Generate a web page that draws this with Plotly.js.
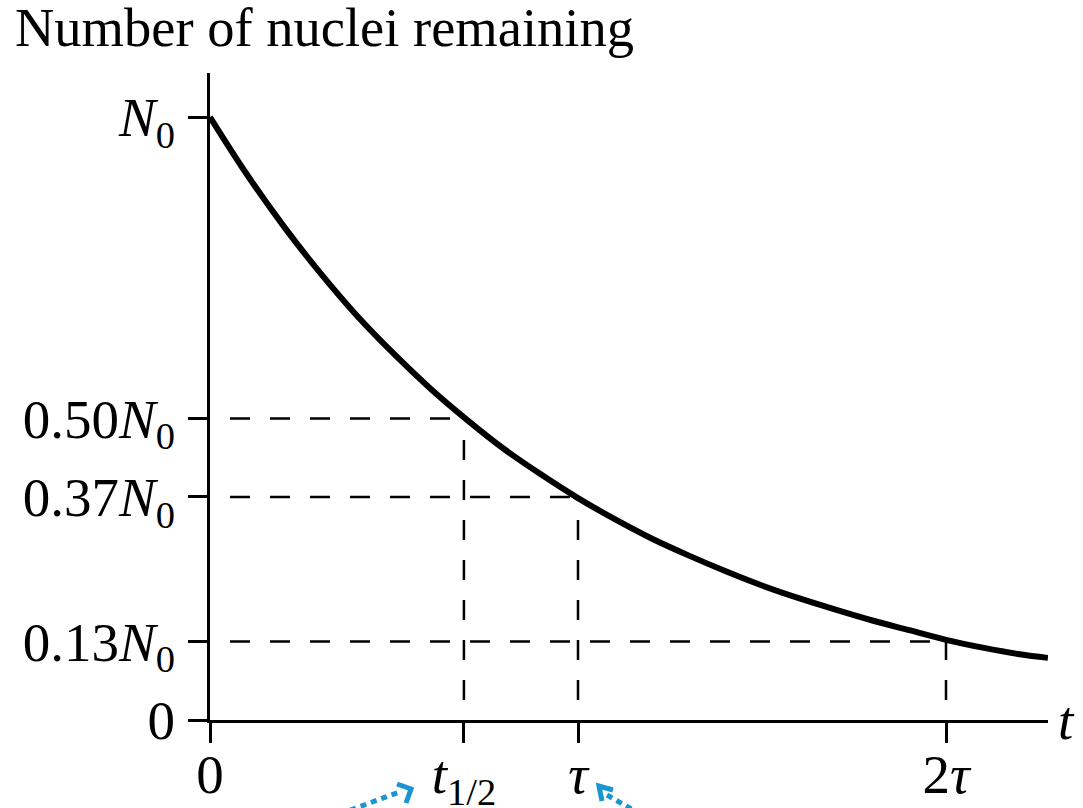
<!DOCTYPE html>
<html>
<head>
<meta charset="utf-8">
<script src="https://cdn.plot.ly/plotly-3.0.1.min.js"></script>
<style>
  html, body { margin: 0; padding: 0; background: #fff; }
  #chart { width: 1083px; height: 808px; }
</style>
</head>
<body>
<div id="chart"></div>
<script>
// Radioactive decay: nuclei remaining versus time (t in units of tau, N in units of N0)
const decayT = [0, 0.1, 0.2, 0.3, 0.4, 0.5, 0.6, 0.7, 0.8, 0.9, 1.0, 1.1, 1.2, 1.3, 1.4, 1.5, 1.6, 1.7, 1.8, 1.9, 2.0, 2.1, 2.2, 2.277];
const decayN = [1.000, 0.905, 0.819, 0.741, 0.670, 0.607, 0.549, 0.497, 0.449, 0.407, 0.368, 0.333, 0.301, 0.273, 0.247, 0.223, 0.202, 0.183, 0.165, 0.149, 0.133, 0.120, 0.109, 0.103];

// Marked times and levels
const tHalf = 0.69;
const tau = 1.0;
const twoTau = 2.0;
const levelHalf = 0.50;
const levelTau = 0.37;
const levelTwoTau = 0.13;

// Axis ticks
const yTickVals = [0, levelTwoTau, levelTau, levelHalf, 1.0];
const yTickText = ['0', '0.13<i>N</i><sub>0</sub>', '0.37<i>N</i><sub>0</sub>', '0.50<i>N</i><sub>0</sub>', '<i>N</i><sub>0</sub>'];
const xTickVals = [0, tHalf, tau, twoTau];
const xTickText = ['0', '<i>t</i><sub>1/2</sub>', '<i>τ</i>', '2<i>τ</i>'];

const FONT = 'Liberation Serif, Times New Roman, serif';
const dashPattern = '0px,20px,20px,0px';

function guide(xs, ys) {
  return {
    x: xs, y: ys, type: 'scatter', mode: 'lines', hoverinfo: 'skip', showlegend: false,
    line: { color: '#000', width: 2.5, dash: dashPattern }
  };
}

const traces = [
  // horizontal guides from the axis to the curve
  guide([0, tHalf], [levelHalf, levelHalf]),
  guide([0, tau], [levelTau, levelTau]),
  guide([0, twoTau], [levelTwoTau, levelTwoTau]),
  // vertical guides from the axis up to the curve
  guide([tHalf, tHalf], [0, levelHalf]),
  guide([tau, tau], [0, levelTau]),
  guide([twoTau, twoTau], [0, levelTwoTau]),
  // decay curve
  {
    x: decayT, y: decayN, type: 'scatter', mode: 'lines', showlegend: false,
    line: { color: '#000', width: 6, shape: 'spline', smoothing: 1 }
  }
];

// plot area in pixels: left 210, right 1048, top 73, bottom 720
const L = 210, R = 1048, T = 73, B = 720;
const px = x => (x - L) / (R - L);
const py = y => (B - y) / (B - T);
const pathOf = pts => pts.map((p, i) => (i ? 'L' : 'M') + px(p[0]).toFixed(4) + ',' + py(p[1]).toFixed(4)).join(' ');

const BLUE = '#1b95cf';

const layout = {
  width: 1083, height: 808,
  margin: { l: L, r: 1083 - R, t: T, b: 808 - B, pad: 0 },
  paper_bgcolor: '#fff', plot_bgcolor: '#fff',
  showlegend: false,
  title: {
    text: 'Number of nuclei remaining',
    font: { family: FONT, size: 54.5, color: '#000' },
    xref: 'container', yref: 'container',
    x: 15 / 1083, xanchor: 'left',
    y: 1 - 8 / 808, yanchor: 'top'
  },
  xaxis: {
    range: [0, (R - L) / 368], fixedrange: true,
    showgrid: false, zeroline: false,
    showline: true, linecolor: '#000', linewidth: 3,
    ticks: 'outside', ticklen: 20, tickwidth: 3, tickcolor: '#000',
    tickmode: 'array', tickvals: xTickVals, ticktext: xTickText,
    tickfont: { family: FONT, size: 55, color: '#000' },
    ticklabelstandoff: -16
  },
  yaxis: {
    range: [0, (B - T) / 603], fixedrange: true,
    showgrid: false, zeroline: false,
    showline: true, linecolor: '#000', linewidth: 3,
    ticks: 'outside', ticklen: 19, tickwidth: 3, tickcolor: '#000',
    tickmode: 'array', tickvals: yTickVals, ticktext: yTickText,
    tickfont: { family: FONT, size: 55, color: '#000' },
    ticklabelstandoff: 2
  },
  annotations: [
    {
      text: '<i>t</i>', xref: 'paper', yref: 'y', x: 1, y: 0,
      xanchor: 'left', yanchor: 'middle', xshift: 8, showarrow: false,
      font: { family: FONT, size: 55, color: '#000' }
    }
  ],
  shapes: [
    { type: 'line', xref: 'paper', yref: 'paper', x0: px(340), y0: py(814), x1: px(402), y1: py(791),
      line: { color: BLUE, width: 5, dash: '6px,5px' } },
    { type: 'path', xref: 'paper', yref: 'paper', path: pathOf([[397, 784], [411, 789], [406, 803]]),
      line: { color: BLUE, width: 5 } },
    { type: 'line', xref: 'paper', yref: 'paper', x0: px(607), y0: py(795), x1: px(640), y1: py(814),
      line: { color: BLUE, width: 5, dash: '6px,5px' } },
    { type: 'path', xref: 'paper', yref: 'paper', path: pathOf([[613, 790], [599, 786], [602, 801]]),
      line: { color: BLUE, width: 5 } }
  ]
};

Plotly.newPlot('chart', traces, layout, { staticPlot: true, displayModeBar: false });
</script>
</body>
</html>
